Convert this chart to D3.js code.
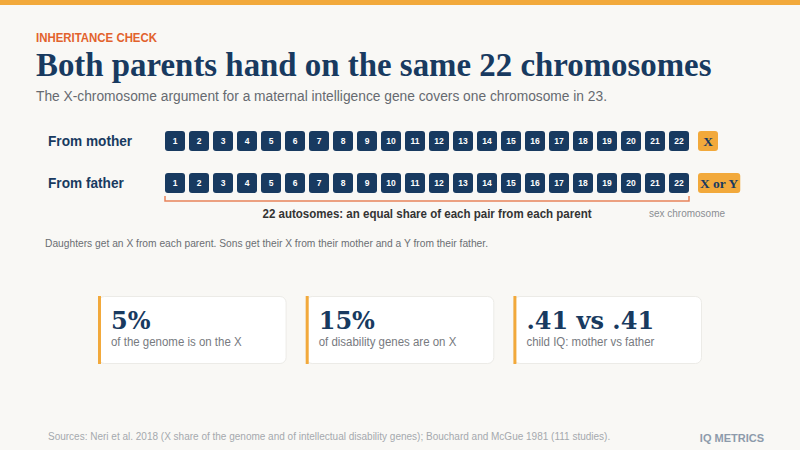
<!DOCTYPE html>
<html>
<head>
<meta charset="utf-8">
<title>inheritance check</title>
<script src="https://cdn.jsdelivr.net/npm/d3@7/dist/d3.min.js"></script>
<style>
    html, body {margin: 0; padding: 0; background: #f9f8f5;}
    svg {display: block;}
    .sans {font-family: "Liberation Sans", Arial, sans-serif;}
    .serif {font-family: "Liberation Serif", "Times New Roman", serif;}
    .dserif {font-family: "DejaVu Serif", Georgia, serif;}
</style>
</head>
<body>
<div id="chart"></div>
<script>
const autosomes = [1, 2, 3, 4, 5, 6, 7, 8, 9, 10, 11, 12, 13, 14, 15, 16, 17, 18, 19, 20, 21, 22];
const parents = ['From mother', 'From father'];
const sexChromosome = ['X', 'X or Y'];
const statValues = ['5%', '15%', '.41 vs .41'];
const statLabels = ['of the genome is on the X', 'of disability genes are on X', 'child IQ: mother vs father'];

const w = 800, h = 450;
const navy = '#183a60';
const gold = '#f2a93b';

// squeeze a text to the width seen in the reference, keeping its height
function squeeze(sel, width) {
    return sel.attr('textLength', width).attr('lengthAdjust', 'spacingAndGlyphs');
}

const svg = d3.select('#chart').append('svg')
    .attr('width', w)
    .attr('height', h);

svg.append('rect').attr('width', w).attr('height', h).attr('fill', '#f9f8f5');
svg.append('rect').attr('width', w).attr('height', 5).attr('fill', gold);

// header
squeeze(svg.append('text').attr('class', 'sans')
    .attr('x', 36).attr('y', 42)
    .attr('font-size', 13).attr('font-weight', 'bold')
    .attr('fill', '#e2622c')
    .text('INHERITANCE CHECK'), 121);

const title = svg.append('text').attr('class', 'serif')
    .attr('x', 36).attr('y', 76)
    .attr('font-size', 30).attr('font-weight', 'bold')
    .attr('fill', navy)
    .text('Both parents hand on the same 22 chromosomes');
title.attr('font-size', 30 * 676 / title.node().getComputedTextLength());

squeeze(svg.append('text').attr('class', 'sans')
    .attr('x', 36).attr('y', 101)
    .attr('font-size', 14)
    .attr('fill', '#666a70')
    .text('The X-chromosome argument for a maternal intelligence gene covers one chromosome in 23.'), 571);

// chromosome rows
const x = d3.scaleBand().domain(autosomes).range([165, 689]).paddingInner(1 / 6);
const y = d3.scalePoint().domain(parents).range([141, 183]);
const bw = x.bandwidth();

const rows = svg.append('g').selectAll('g.row')
    .data(parents)
    .join('g')
    .attr('class', 'row')
    .attr('transform', d => `translate(0, ${y(d)})`);

rows.append('text').attr('class', 'sans')
    .attr('x', 48).attr('dy', '0.35em')
    .attr('font-size', 14).attr('font-weight', 'bold')
    .attr('fill', navy)
    .text(d => d)
    .each(function () {
        const t = d3.select(this);
        squeeze(t, this.getComputedTextLength() * 0.975);
    });

const cells = rows.selectAll('g.chr')
    .data(autosomes)
    .join('g')
    .attr('class', 'chr')
    .attr('transform', d => `translate(${x(d)}, ${-bw / 2})`);

cells.append('rect')
    .attr('width', bw).attr('height', bw)
    .attr('rx', 3)
    .attr('fill', navy);

cells.append('text').attr('class', 'sans')
    .attr('x', bw / 2).attr('y', bw / 2).attr('dy', '0.35em')
    .attr('text-anchor', 'middle')
    .attr('font-size', 8.5).attr('font-weight', 'bold')
    .attr('fill', '#fff')
    .text(d => d);

// sex chromosome
const sx = x(22) + x.step() + 5;
rows.each(function (d, i) {
    const g = d3.select(this).append('g').attr('class', 'sex');
    const r = g.append('rect')
        .attr('x', sx).attr('y', -bw / 2)
        .attr('height', bw)
        .attr('rx', 3)
        .attr('fill', gold);
    const t = g.append('text').attr('class', 'serif')
        .attr('dy', '0.35em')
        .attr('text-anchor', 'middle')
        .attr('font-size', 13.5).attr('font-weight', 'bold')
        .attr('fill', navy)
        .text(sexChromosome[i]);
    const bwx = Math.max(bw, t.node().getComputedTextLength() + 4);
    r.attr('width', bwx);
    t.attr('x', sx + bwx / 2);
});

// bracket under the autosomes
const by = 201;
svg.append('path')
    .attr('d', `M${x(1)},${by - 5}V${by}H${x(22) + bw}V${by - 5}`)
    .attr('fill', 'none')
    .attr('stroke', '#e8825a')
    .attr('stroke-width', 1.5);

squeeze(svg.append('text').attr('class', 'sans')
    .attr('x', (x(1) + x(22) + bw) / 2).attr('y', 218)
    .attr('text-anchor', 'middle')
    .attr('font-size', 12).attr('font-weight', 'bold')
    .attr('fill', '#333')
    .text('22 autosomes: an equal share of each pair from each parent'), 329);

squeeze(svg.append('text').attr('class', 'sans')
    .attr('x', 649).attr('y', 217)
    .attr('font-size', 10.5)
    .attr('fill', '#8a8d92')
    .text('sex chromosome'), 76);

squeeze(svg.append('text').attr('class', 'sans')
    .attr('x', 45).attr('y', 247)
    .attr('font-size', 11.2)
    .attr('fill', '#6b6e73')
    .text('Daughters get an X from each parent. Sons get their X from their mother and a Y from their father.'), 443);

// stat cards
const cx = d3.scaleBand().domain(statValues).range([98, 702]).paddingInner(0.092);
const cardTop = 296, cardH = 68;

const cards = svg.append('g').selectAll('g.card')
    .data(statValues)
    .join('g')
    .attr('class', 'card')
    .attr('transform', d => `translate(${cx(d)}, ${cardTop})`);

cards.append('rect')
    .attr('x', 0.5).attr('y', 0.5)
    .attr('width', cx.bandwidth() - 1).attr('height', cardH - 1)
    .attr('rx', 6)
    .attr('fill', '#fff')
    .attr('stroke', '#ecebe7');

cards.append('rect')
    .attr('width', 3).attr('height', cardH)
    .attr('fill', gold);

cards.append('text').attr('class', 'dserif')
    .attr('x', 13).attr('y', 33)
    .attr('font-size', 24).attr('font-weight', 'bold')
    .attr('fill', navy)
    .text(d => d);

cards.append('text').attr('class', 'sans')
    .attr('x', 13).attr('y', 50)
    .attr('font-size', 12)
    .attr('fill', '#777a80')
    .text((d, i) => statLabels[i])
    .each(function () {
        squeeze(d3.select(this), this.getComputedTextLength() * 0.955);
    });

// footer
svg.append('text').attr('class', 'sans')
    .attr('x', 48).attr('y', 440)
    .attr('font-size', 10)
    .attr('fill', '#a5a9ae')
    .text('Sources: Neri et al. 2018 (X share of the genome and of intellectual disability genes); Bouchard and McGue 1981 (111 studies).');

svg.append('text').attr('class', 'sans')
    .attr('x', 764).attr('y', 442)
    .attr('text-anchor', 'end')
    .attr('font-size', 11).attr('font-weight', 'bold')
    .attr('fill', '#8d9bab')
    .text('IQ METRICS');
</script>
</body>
</html>
